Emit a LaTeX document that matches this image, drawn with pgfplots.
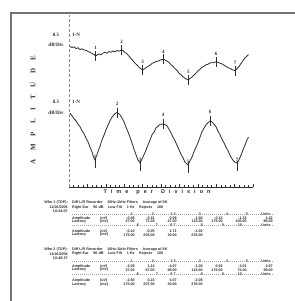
\documentclass[border=0pt]{standalone}
\usepackage{pgfplots}
\pgfplotsset{compat=1.18}
\usepackage{fontspec}
\setmainfont{Liberation Serif}
\setsansfont{Liberation Sans}
\definecolor{ink}{gray}{0.18}
\newcommand\tabfont{\fontsize{3.7}{3.7}\selectfont\sffamily\bfseries}
\newcommand\T[4]{\node[anchor=#1, inner sep=0pt, font=\tabfont, text=ink] at (#2pt,#3pt) {#4};}
\newcommand\Sep[1]{\draw[black!35, line width=0.5pt, dash pattern=on 1pt off 1pt] (72pt,#1pt) -- (273pt,#1pt);}
\newcommand\SL[3]{\node[anchor=center, inner sep=0.3pt, fill=white, font=\tabfont, text=ink] at (#1pt,#2pt) {#3};}
\begin{document}
\begin{tikzpicture}
\useasboundingbox (0,0) rectangle (295pt,301pt);
\clip (0,0) rectangle (295pt,301pt);
\fill[white] (0,0) rectangle (295pt,301pt);
\draw[black!55, line width=1.2pt] (11pt,-5pt) -- (11pt,288pt) -- (300pt,288pt);
\begin{axis}[at={(69pt,114pt)}, anchor=south west, scale only axis,
  width=184pt, height=172pt, xmin=0, xmax=184, ymin=0, ymax=172,
  axis x line=bottom, axis y line=left,
  x axis line style={-, ink, line width=0.8pt},
  y axis line style={-, black!45, densely dashed, line width=0.6pt},
  xtick={0,18.4,...,184}, minor x tick num=3, xticklabels={}, ytick=\empty,
  xtick align=inside, major tick length=3pt, minor tick length=1.8pt,
  every tick/.style={ink, line width=0.5pt}, clip=false]
\addplot[ink, line width=0.8pt] coordinates {
(1,140.5) (3,139.5) (5,140.2) (7,138.5) (9,139.2) (11,137.5) (13,138.2) (15,137) (17,136.8) (19,135.5) (21,134.8) (23,133.5) (25,132.4) (26.7,131) (28.5,132.2) (30,133) (32,132.3) (34,134) (36,134.6) (38,133.8) (40,135.5) (42,134.8) (44,136) (46,135.3) (48,136.5) (50,135.8) (52.7,137) (54.5,136) (56,134.5) (58,133.2) (60,130.8) (62,128.5) (64,126.2) (66,123.8) (68,122) (70,119.8) (72,118.2) (73.7,117) (75.5,118.2) (77,119.3) (79,120.7) (81,121.8) (83,123.6) (85,124.3) (87,125.6) (89,125.8) (91,127) (94.3,127.7) (96,127.1) (98,125.8) (100,124.6) (102,122.3) (104,120.6) (106,118.3) (108,116.6) (110,113.8) (112,112.2) (114,110.3) (116,108.7) (119.3,107) (121,108.6) (123,109.8) (125,112.1) (127,113.8) (129,116.2) (131,117.8) (133,119.6) (135,120.8) (137,122.2) (139,122.8) (141,124.1) (144,124.3) (147,125.3) (149,124.6) (151,123.8) (153,123.1) (155,121.8) (157,120.6) (159,119.4) (161,118.6) (163,117.4) (166,116.3) (168,118.2) (170,120.4) (172,123.6) (174,126.4) (176,129.2) (178,131) (179.5,132.5)};
\addplot[ink, line width=0.8pt] coordinates {
(1,74) (3,71.2) (5,68.3) (7,66.2) (9,62.8) (11,60.3) (13,56.2) (15,53.3) (17,48.8) (19,45.3) (21,39.8) (23,35.2) (24.5,30) (26,27) (27.5,31) (29,35.3) (31,40.8) (33,47.2) (35,51.8) (37,57.2) (39,61.8) (41,66.2) (43,69.8) (45,72.3) (46.5,73.8) (48,74.5) (49.5,73.5) (51,72.2) (53,68.8) (55,65.2) (57,59.8) (59,55.2) (61,49.8) (63,44.2) (65,37.8) (67,32.3) (69,26.8) (71,24) (73,28) (75,32.3) (77,36.8) (79,42.2) (81,46.8) (83,52.2) (85,54.8) (87,59.2) (89,60.8) (91,62.6) (94,63) (96,62.4) (98,61.2) (100,57.8) (102,54.2) (104,49.8) (106,46.2) (108,41.8) (110,37.2) (112,32.8) (114,29.2) (116,24.8) (119,22) (121,26.2) (123,29.8) (125,35.2) (127,39.8) (129,44.2) (131,49.8) (133,55.2) (135,58.8) (137,62.2) (139,64.3) (141,66) (143,65.2) (145,62.8) (147,60.2) (149,55.8) (151,52.2) (153,47.8) (155,44.2) (157,39.8) (159,36.2) (161,31.8) (163,28.2) (165,25.5) (168,24) (170,27.2) (172,31.8) (174,37.2) (176,41.8) (178,47.2) (179.5,50)};
\addplot[only marks, mark=|, mark size=5pt, mark options={ink, line width=0.5pt},
  point meta=explicit symbolic, nodes near coords,
  every node near coord/.append style={font=\fontsize{5}{5}\selectfont\bfseries, text=ink, anchor=south, inner sep=0pt, yshift=6pt}]
  coordinates {(26.7,131)[1] (52.7,137)[2] (73.7,117)[3] (94.3,127.7)[4] (119.3,107)[5] (147,125.3)[6] (166,116.3)[7]};
\addplot[only marks, mark=|, mark size=5pt, mark options={ink, line width=0.5pt},
  point meta=explicit symbolic, nodes near coords,
  every node near coord/.append style={font=\fontsize{5}{5}\selectfont\bfseries, text=ink, anchor=south, inner sep=0pt, yshift=7pt}]
  coordinates {(48,74.5)[2] (94,63)[4] (141,66)[6]};
\addplot[only marks, mark=|, mark size=5pt, mark options={ink, line width=0.5pt, yshift=-3pt},
  point meta=explicit symbolic, nodes near coords,
  every node near coord/.append style={font=\fontsize{5}{5}\selectfont\bfseries, text=ink, anchor=south, inner sep=0pt, yshift=4pt}]
  coordinates {(26,27)[1] (71,24)[3] (119,22)[5] (168,24)[7]};
\end{axis}
\node[font=\fontsize{5}{5}\selectfont\bfseries, text=ink] at (56pt,266pt) {8.5};
\node[font=\fontsize{5}{5}\selectfont\bfseries, text=ink] at (56pt,256pt) {dB/Div};
\node[anchor=west, inner sep=0pt, font=\fontsize{5}{5}\selectfont\bfseries, text=ink] at (72pt,266pt) {1-N};
\node[font=\fontsize{5}{5}\selectfont\bfseries, text=ink] at (56pt,199pt) {8.5};
\node[font=\fontsize{5}{5}\selectfont\bfseries, text=ink] at (56pt,188pt) {dB/Div};
\node[anchor=west, inner sep=0pt, font=\fontsize{5}{5}\selectfont\bfseries, text=ink] at (72pt,199pt) {1-N};
\node[rotate=90, inner sep=0pt, font=\fontsize{7}{7}\selectfont\bfseries, text=ink] at (33pt,191pt) {\makebox[108pt][s]{A M P L I T U D E}};
\node[inner sep=0pt, font=\fontsize{5.5}{5.5}\selectfont\sffamily\bfseries, text=ink] at (157pt,108.5pt) {\makebox[107pt][s]{T\hfill i\hfill m\hfill e\hfill\hfill p\hfill e\hfill r\hfill\hfill D\hfill i\hfill v\hfill i\hfill s\hfill i\hfill o\hfill n}};
\T{east}{68}{98}{Wfm 1 (TOP):}
\T{west}{72}{98}{Diff L/R Recorder \quad 10Hz-1kHz Filters \quad Average of 8K}
\T{east}{68}{93.5}{11/16/2006}
\T{west}{72}{93.5}{Right Ear \quad 90 dB \quad Low Filt \quad 1 Hz \quad Rejects \quad 100}
\T{east}{68}{89.5}{10:44:07}
\Sep{86.7}
\SL{132}{86.7}{1}\SL{153}{86.7}{2}\SL{173}{86.7}{1-3}\SL{200}{86.7}{3}\SL{227}{86.7}{4}\SL{247}{86.7}{5}\SL{266}{86.7}{Units}
\T{west}{72}{82.7}{Amplitude}\T{west}{100}{82.7}{(uV)}
\T{east}{135}{82.7}{-0.08}\T{east}{155}{82.7}{-0.31}\T{east}{177}{82.7}{0.08}\T{east}{203}{82.7}{-1.00}\T{east}{223}{82.7}{-0.12}\T{east}{247}{82.7}{-1.32}\T{east}{273}{82.7}{1.22}
\T{west}{72}{79.3}{Latency}\T{west}{100}{79.3}{(ms)}
\T{east}{135}{79.3}{27.00}\T{east}{155}{79.3}{71.00}\T{east}{177}{79.3}{47.00}\T{east}{203}{79.3}{115.00}\T{east}{223}{79.3}{175.00}\T{east}{247}{79.3}{100.00}\T{east}{273}{79.3}{88.00}
\Sep{75.7}
\SL{138}{75.7}{6}\SL{157}{75.7}{7}\SL{173}{75.7}{6-7}\SL{202}{75.7}{8}\SL{223}{75.7}{9}\SL{240}{75.7}{10}\SL{266}{75.7}{Units}
\T{west}{72}{69.3}{Amplitude}\T{west}{100}{69.3}{(uV)}
\T{east}{135}{69.3}{-0.10}\T{east}{155}{69.3}{-0.05}\T{east}{177}{69.3}{1.71}\T{east}{203}{69.3}{-1.00}
\T{west}{72}{66}{Latency}\T{west}{100}{66}{(ms)}
\T{east}{135}{66}{175.00}\T{east}{155}{66}{205.00}\T{east}{177}{66}{30.00}\T{east}{203}{66}{235.00}
\T{east}{68}{51}{Wfm 2 (TOP):}
\T{west}{72}{51}{Diff L/R Recorder \quad 10Hz-1kHz Filters \quad Average of 8K}
\T{east}{68}{47}{11/16/2006}
\T{west}{72}{47}{Right Ear \quad 90 dB \quad Low Filt \quad 1 Hz \quad Rejects \quad 100}
\T{east}{68}{43}{10:48:37}
\Sep{40}
\SL{132}{40}{1}\SL{153}{40}{2}\SL{173}{40}{1-3}\SL{200}{40}{3}\SL{227}{40}{4}\SL{247}{40}{5}\SL{266}{40}{Units}
\T{west}{72}{34.5}{Amplitude}\T{west}{100}{34.5}{(uV)}
\T{east}{135}{34.5}{-2.08}\T{east}{155}{34.5}{1.12}\T{east}{177}{34.5}{-4.07}\T{east}{203}{34.5}{-1.08}\T{east}{223}{34.5}{0.92}\T{east}{247}{34.5}{-3.01}\T{east}{273}{34.5}{2.87}
\T{west}{72}{31}{Latency}\T{west}{100}{31}{(ms)}
\T{east}{135}{31}{27.00}\T{east}{155}{31}{67.00}\T{east}{177}{31}{98.00}\T{east}{203}{31}{115.00}\T{east}{223}{31}{176.00}\T{east}{247}{31}{72.00}\T{east}{273}{31}{99.00}
\Sep{27}
\SL{138}{27}{6}\SL{157}{27}{7}\SL{173}{27}{6-7}\SL{202}{27}{8}\SL{223}{27}{9}\SL{240}{27}{10}\SL{266}{27}{Units}
\T{west}{72}{20.3}{Amplitude}\T{west}{100}{20.3}{(uV)}
\T{east}{135}{20.3}{-2.80}\T{east}{155}{20.3}{0.23}\T{east}{177}{20.3}{4.07}\T{east}{203}{20.3}{-2.08}
\T{west}{72}{16.8}{Latency}\T{west}{100}{16.8}{(ms)}
\T{east}{135}{16.8}{175.00}\T{east}{155}{16.8}{207.00}\T{east}{177}{16.8}{30.00}\T{east}{203}{16.8}{235.00}
\end{tikzpicture}
\end{document}
